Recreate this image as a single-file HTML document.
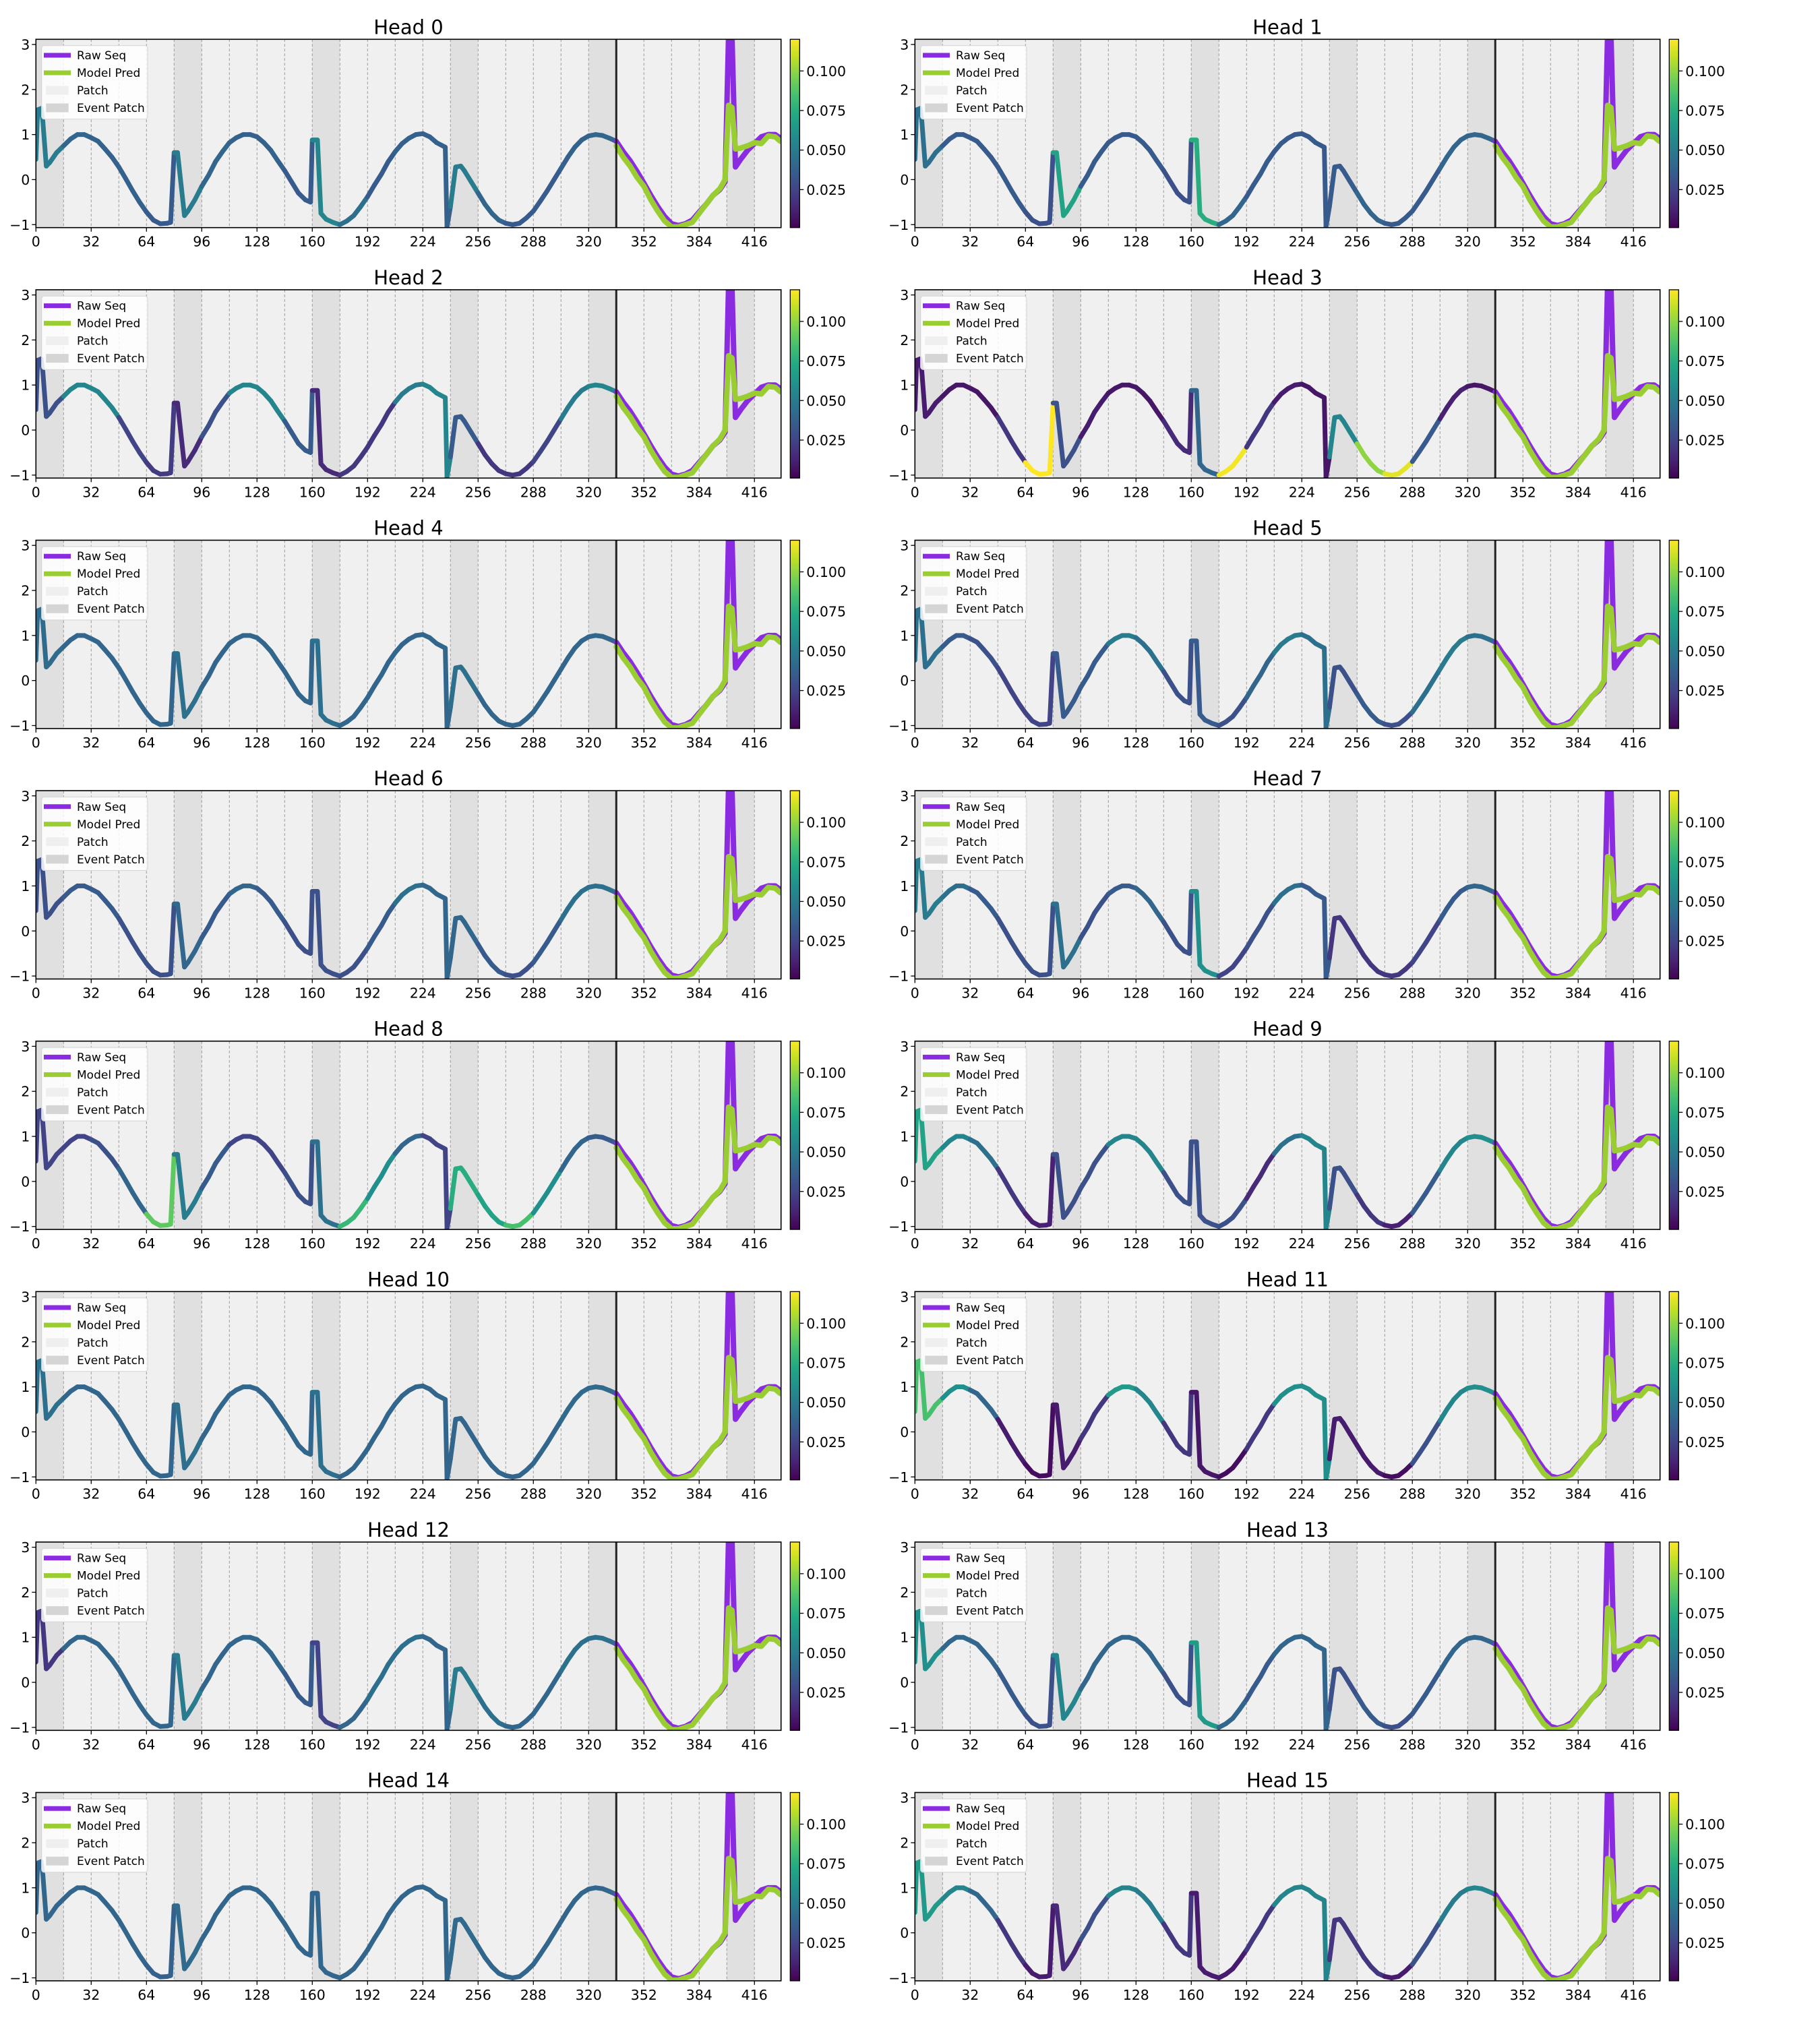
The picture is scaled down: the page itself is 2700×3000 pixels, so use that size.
<!DOCTYPE html>
<html><head><meta charset="utf-8"><title>Attention heads</title>
<style>
html,body{margin:0;padding:0;background:#fff;}
svg{display:block;font-family:"DejaVu Sans","Liberation Sans",sans-serif;}
</style></head>
<body>
<svg id="fig" xmlns="http://www.w3.org/2000/svg" width="2700" height="3000" viewBox="0 0 2700 3000">
<defs>
<linearGradient id="viridis" x1="0" y1="1" x2="0" y2="0">
<stop offset="0" stop-color="#440154"/><stop offset="0.1" stop-color="#482475"/><stop offset="0.2" stop-color="#414487"/><stop offset="0.3" stop-color="#355f8d"/><stop offset="0.4" stop-color="#2a788e"/><stop offset="0.5" stop-color="#21918c"/><stop offset="0.6" stop-color="#22a884"/><stop offset="0.7" stop-color="#44bf70"/><stop offset="0.8" stop-color="#7ad151"/><stop offset="0.9" stop-color="#bddf26"/><stop offset="1" stop-color="#fde725"/>
</linearGradient>
</defs>
</svg>
<script>
// ---- data ----
const ctxT = [0,1,3,4,6,8,12,16,20,24,28,32,36,40,44,48,52,56,60,64,68,72,76,78,80,82,86,88,92,96,100,104,108,112,116,120,124,128,132,136,140,144,148,152,156,159,160,163,165,168,172,176,180,184,188,192,196,200,204,208,212,216,220,224,228,232,237,238,240,243,246,248,252,256,260,264,268,272,276,280,284,288,292,296,300,304,308,312,316,320,324,328,332,336];
const ctxV = [0.45,1.55,1.58,1.3,0.3,0.38,0.6,0.75,0.9,1.0,1.0,0.93,0.85,0.68,0.5,0.28,0.02,-0.25,-0.5,-0.72,-0.9,-0.98,-0.97,-0.95,0.6,0.6,-0.8,-0.7,-0.45,-0.15,0.1,0.4,0.62,0.82,0.93,1.0,1.0,0.95,0.82,0.65,0.42,0.2,-0.05,-0.3,-0.45,-0.5,0.88,0.88,-0.75,-0.88,-0.95,-1.0,-0.92,-0.8,-0.6,-0.38,-0.12,0.12,0.4,0.62,0.8,0.92,1.0,1.02,0.95,0.82,0.72,-1.05,-0.6,0.28,0.3,0.2,-0.05,-0.3,-0.55,-0.75,-0.9,-0.97,-1.0,-0.97,-0.85,-0.7,-0.48,-0.25,0.0,0.25,0.5,0.72,0.88,0.97,1.0,0.98,0.92,0.85];
const predT = [336,340,344,348,352,356,360,364,368,372,376,380,384,388,392,396,399,401,403,405,408,412,416,420,424,428,431];
const rawV = [0.85,0.62,0.42,0.18,-0.08,-0.35,-0.6,-0.82,-0.98,-1.02,-0.98,-0.9,-0.72,-0.55,-0.35,-0.22,-0.05,3.2,3.2,0.28,0.45,0.65,0.8,0.95,1.0,1.0,0.92];
const predV = [0.75,0.5,0.3,0.05,-0.15,-0.45,-0.7,-0.92,-1.05,-1.05,-1.0,-0.95,-0.75,-0.55,-0.35,-0.2,0.0,1.65,1.6,0.68,0.7,0.75,0.82,0.8,0.97,0.95,0.85];
const xTicks = [0,32,64,96,128,160,192,224,256,288,320,352,384,416];
const yTicks = [-1,0,1,2,3];
const cbTicks = [0.025,0.050,0.075,0.100];
const eventPatches = [0,80,160,240,320,400];
const contextEnd = 336;
const headAttention = [
[0.05,0.04,0.038,0.038,0.035,0.05,0.04,0.038,0.038,0.035,0.055,0.045,0.035,0.038,0.038,0.05,0.04,0.035,0.035,0.038,0.04],
[0.045,0.035,0.035,0.035,0.03,0.07,0.035,0.035,0.035,0.03,0.075,0.04,0.035,0.035,0.035,0.035,0.04,0.035,0.035,0.04,0.04],
[0.03,0.055,0.055,0.025,0.022,0.015,0.03,0.055,0.055,0.035,0.015,0.02,0.02,0.05,0.055,0.035,0.02,0.02,0.025,0.05,0.055],
[0.01,0.008,0.008,0.02,0.12,0.03,0.01,0.008,0.008,0.015,0.04,0.118,0.02,0.01,0.008,0.055,0.1,0.115,0.035,0.012,0.008],
[0.042,0.04,0.04,0.04,0.04,0.045,0.04,0.04,0.04,0.04,0.045,0.04,0.04,0.04,0.04,0.045,0.04,0.04,0.04,0.04,0.04],
[0.045,0.035,0.03,0.025,0.025,0.035,0.035,0.05,0.045,0.03,0.035,0.03,0.04,0.05,0.045,0.03,0.035,0.03,0.045,0.05,0.045],
[0.03,0.035,0.035,0.03,0.03,0.04,0.035,0.04,0.035,0.03,0.03,0.03,0.035,0.045,0.04,0.04,0.035,0.03,0.035,0.045,0.045],
[0.05,0.045,0.035,0.03,0.03,0.045,0.03,0.035,0.04,0.03,0.06,0.025,0.03,0.045,0.035,0.02,0.02,0.02,0.025,0.035,0.04],
[0.025,0.025,0.03,0.04,0.09,0.05,0.035,0.025,0.025,0.03,0.045,0.08,0.06,0.04,0.025,0.075,0.07,0.085,0.06,0.04,0.035],
[0.07,0.055,0.045,0.02,0.012,0.03,0.03,0.055,0.055,0.03,0.03,0.03,0.015,0.045,0.055,0.03,0.02,0.012,0.035,0.055,0.06],
[0.045,0.04,0.04,0.04,0.04,0.045,0.04,0.04,0.04,0.04,0.045,0.04,0.04,0.04,0.04,0.04,0.04,0.04,0.04,0.042,0.042],
[0.085,0.06,0.04,0.01,0.005,0.01,0.02,0.065,0.055,0.02,0.008,0.005,0.02,0.06,0.06,0.01,0.01,0.005,0.03,0.055,0.06],
[0.02,0.04,0.04,0.04,0.04,0.05,0.04,0.04,0.04,0.035,0.025,0.04,0.045,0.045,0.04,0.05,0.045,0.04,0.04,0.045,0.045],
[0.06,0.04,0.04,0.035,0.03,0.055,0.04,0.04,0.04,0.03,0.065,0.04,0.035,0.04,0.04,0.03,0.035,0.03,0.035,0.04,0.04],
[0.04,0.04,0.04,0.04,0.038,0.042,0.04,0.04,0.04,0.04,0.04,0.04,0.04,0.04,0.04,0.042,0.04,0.04,0.04,0.04,0.04],
[0.065,0.055,0.04,0.02,0.01,0.015,0.03,0.055,0.05,0.02,0.01,0.01,0.02,0.055,0.055,0.02,0.02,0.01,0.03,0.05,0.055]
];

// ---- layout ----
const NS = 'http://www.w3.org/2000/svg';
const svg = document.getElementById('fig');
const AX_W = 1105.4, AX_H = 279.4, COL_DX = 1304, ROW_DY = 371.6;
const X_MIN = 0, X_MAX = 431.4, Y_MIN = -1.066, Y_MAX = 3.115;
const CB_MIN = 0.001, CB_MAX = 0.12;
const VIR = ['#440154','#482475','#414487','#355f8d','#2a788e','#21918c','#22a884','#44bf70','#7ad151','#bddf26','#fde725'];
function hex2rgb(h){return [parseInt(h.slice(1,3),16),parseInt(h.slice(3,5),16),parseInt(h.slice(5,7),16)];}
function viridis(v){
  let n=(v-CB_MIN)/(CB_MAX-CB_MIN); n=Math.max(0,Math.min(1,n));
  const p=n*10, i=Math.min(9,Math.floor(p)), f=p-i;
  const a=hex2rgb(VIR[i]), b=hex2rgb(VIR[i+1]);
  return 'rgb('+a.map((c,k)=>Math.round(c+(b[k]-c)*f)).join(',')+')';
}
function mk(tag, attrs, parent){
  const e=document.createElementNS(NS,tag);
  for(const k in attrs) e.setAttribute(k,attrs[k]);
  (parent||svg).appendChild(e); return e;
}

for(let h=0; h<16; h++){
  const col=h%2, row=Math.floor(h/2);
  const L=53.3+col*COL_DX, T=58.3+row*ROW_DY;
  const xs=t=>L+(t-X_MIN)/(X_MAX-X_MIN)*AX_W;
  const ys=v=>T+(Y_MAX-v)/(Y_MAX-Y_MIN)*AX_H;
  const g=mk('g',{});
  
  

  const cp=mk('clipPath',{id:'clip'+h},g);
  mk('rect',{x:L,y:T,width:AX_W,height:AX_H},cp);

  // background patches
  const bg=mk('rect',{x:L,y:T,width:AX_W,height:AX_H,fill:'#f0f0f0'},g);
  
  
  eventPatches.forEach(s=>{
    const r=mk('rect',{x:xs(s),y:T,width:xs(Math.min(s+16,X_MAX))-xs(s),height:AX_H,fill:'#e0e0e0'},g);
    
    
  });
  for(let t=16;t<X_MAX;t+=16){
    const l=mk('line',{x1:xs(t),x2:xs(t),y1:T,y2:T+AX_H,stroke:'#9a9a9a','stroke-width':1,'stroke-dasharray':'4,3'},g);
    
    
  }

  // context line colored by attention
  const lg=mk('g',{'clip-path':'url(#clip'+h+')'},g);
  const att=headAttention[h];
  for(let i=0;i<ctxT.length-1;i++){
    const mid=(ctxT[i]+ctxT[i+1])/2;
    const p=Math.min(att.length-1,Math.floor(mid/16));
    const s=mk('line',{x1:xs(ctxT[i]),y1:ys(ctxV[i]),x2:xs(ctxT[i+1]),y2:ys(ctxV[i+1]),stroke:viridis(att[p]),'stroke-width':7,'stroke-linecap':'round'},lg);
    
    
  }
  const rawPts=predT.map((t,i)=>xs(t)+','+ys(rawV[i])).join(' ');
  const raw=mk('polyline',{points:rawPts,fill:'none',stroke:'#8a2be2','stroke-width':8,'stroke-linejoin':'round','stroke-linecap':'round'},lg);
  
  
  const predPts=predT.map((t,i)=>xs(t)+','+ys(predV[i])).join(' ');
  const pr=mk('polyline',{points:predPts,fill:'none',stroke:'#9acd32','stroke-width':8,'stroke-linejoin':'round','stroke-linecap':'round'},lg);
  
  

  const vl=mk('line',{x1:xs(contextEnd),x2:xs(contextEnd),y1:T,y2:T+AX_H,stroke:'#222','stroke-width':3},g);
  
  

  // frame
  const fr=mk('rect',{x:L,y:T,width:AX_W,height:AX_H,fill:'none',stroke:'#000','stroke-width':1.6},g);
  
  

  // ticks
  xTicks.forEach(t=>{
    mk('line',{x1:xs(t),x2:xs(t),y1:T+AX_H,y2:T+AX_H+6,stroke:'#000','stroke-width':1.3},g);
    const tx=mk('text',{x:xs(t),y:T+AX_H+28,'font-size':20.5,'text-anchor':'middle',fill:'#000'},g);
    tx.textContent=t;
    
    
  });
  yTicks.forEach(v=>{
    mk('line',{x1:L-6,x2:L,y1:ys(v),y2:ys(v),stroke:'#000','stroke-width':1.3},g);
    const tx=mk('text',{x:L-9,y:ys(v)+7.5,'font-size':20.5,'text-anchor':'end',fill:'#000'},g);
    tx.textContent=v<0?'\u2212'+Math.abs(v):String(v);
    
    
  });

  // title
  const ti=mk('text',{x:L+AX_W/2,y:T-8,'font-size':29,'text-anchor':'middle',fill:'#000'},g);
  ti.textContent='Head '+h;
  
  

  // legend
  const lgd=mk('g',{},g);
  
  
  mk('rect',{x:L+8.4,y:T+9.4,width:157.3,height:109,rx:4,fill:'#fff','fill-opacity':0.85,stroke:'#d8d8d8','stroke-width':1.2},lgd);
  const entries=[['Raw Seq','line','#8a2be2'],['Model Pred','line','#9acd32'],['Patch','rect','#efefef'],['Event Patch','rect','#d5d5d5']];
  entries.forEach((e,k)=>{
    const cy=T+23.7+k*26;
    if(e[1]==='line') mk('line',{x1:L+11.7,x2:L+51.7,y1:cy,y2:cy,stroke:e[2],'stroke-width':7},lgd);
    else mk('rect',{x:L+15,y:cy-6.5,width:33.4,height:13,fill:e[2]},lgd);
    const tx=mk('text',{x:L+60.7,y:cy+6,'font-size':17,fill:'#000'},lgd);
    tx.textContent=e[0];
    
    
  });

  // colorbar
  const cbx=L+1119, cbw=14;
  const cb=mk('rect',{x:cbx,y:T,width:cbw,height:AX_H,fill:'url(#viridis)',stroke:'#000','stroke-width':1.3},g);
  
  
  const cys=v=>T+(CB_MAX-v)/(CB_MAX-CB_MIN)*AX_H;
  cbTicks.forEach(v=>{
    mk('line',{x1:cbx+cbw,x2:cbx+cbw+6,y1:cys(v),y2:cys(v),stroke:'#000','stroke-width':1.3},g);
    const tx=mk('text',{x:cbx+cbw+10,y:cys(v)+7.5,'font-size':20.5,fill:'#000'},g);
    tx.textContent=v.toFixed(3);
    
    
  });
}
</script>
</body></html>
